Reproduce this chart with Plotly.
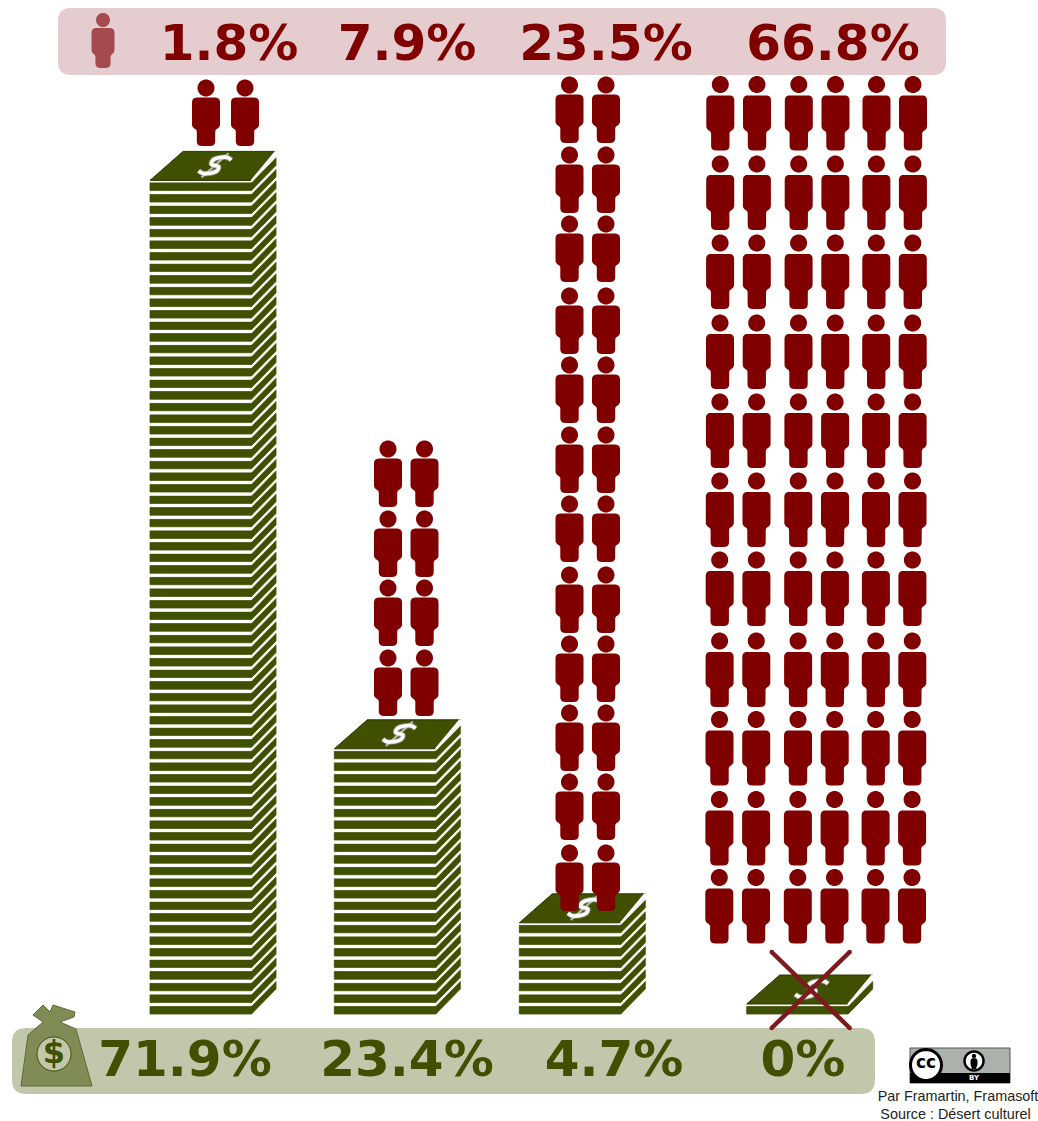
import math
import plotly.graph_objects as go

# Share of cultural income and share of people in each of the four groups
money_pct = [71.9, 23.4, 4.7, 0]
people_pct = [1.8, 7.9, 23.5, 66.8]
note_layers = [72, 23, 8, 1]
people_count = [2, 8, 24, 66]
people_per_row = [2, 2, 2, 6]

# Horizontal placement of the groups (px-like plot units)
stack_left = [150, 334.3, 519.3, 746.7]
people_x = [
    [206, 245],
    [388, 424.5],
    [569.5, 606],
    [720.3, 757, 798.8, 835.5, 876.5, 913],
]
people_row_y = [
    [88],
    [449, 519, 588, 658],
    [85, 155, 224, 296, 365, 435, 504, 575, 644, 713, 782, 853],
    [84.5, 164, 243, 323, 402, 481, 560, 641, 719.5, 799.5, 877.5],
]
people_height = [58, 58, 58, 66]
people_pct_x = [229, 407, 606, 833]
money_pct_x = [185, 407, 614, 803]

RED = "#800000"
GREEN = "#3f5000"
W, H = 1038, 1121
BASE = 1014
PITCH = 11.6
FRONT_W = 101.5
SIDE_DX = 24.5
SIDE_DY = 25


def rounded(points, radii):
    """Closed outline through points with each corner rounded by its radius."""
    out_x, out_y = [], []
    n = len(points)
    for i, (px, py) in enumerate(points):
        ax, ay = points[i - 1]
        bx, by = points[(i + 1) % n]
        r = radii[i]
        la = math.hypot(ax - px, ay - py)
        lb = math.hypot(bx - px, by - py)
        r = min(r, la / 2, lb / 2)
        for k in range(7):
            t = k / 6
            s = (px + (ax - px) * r / la, py + (ay - py) * r / la)
            e = (px + (bx - px) * r / lb, py + (by - py) * r / lb)
            out_x.append((1 - t) ** 2 * s[0] + 2 * t * (1 - t) * px + t * t * e[0])
            out_y.append((1 - t) ** 2 * s[1] + 2 * t * (1 - t) * py + t * t * e[1])
    out_x.append(out_x[0])
    out_y.append(out_y[0])
    return out_x, out_y


def circle(cx, cy, r):
    steps = [2 * math.pi * k / 40 for k in range(41)]
    return [cx + r * math.cos(a) for a in steps], [cy + r * math.sin(a) for a in steps]


def person(cx, head_y, height=58.0, sx=1.0):
    """Head and body outline of one figure, as separate closed sub-paths."""
    sy = height / 58.0
    hx, hy = circle(cx, head_y, 8.5 * sx)
    top = head_y + 9.6 * sy
    shoulder = head_y + 39 * sy
    bottom = head_y + height
    bw, lw = 14 * sx, 9.2 * sx
    pts = [
        (cx - bw, top), (cx + bw, top), (cx + bw, shoulder),
        (cx + lw, shoulder + 3), (cx + lw, bottom), (cx - lw, bottom),
        (cx - lw, shoulder + 3), (cx - bw, shoulder),
    ]
    bx, by = rounded(pts, [5, 5, 4, 2, 5, 5, 2, 4])
    return hx + [None] + bx, hy + [None] + by


def join(paths):
    xs, ys = [], []
    for px, py in paths:
        xs += list(px) + [None]
        ys += list(py) + [None]
    return xs, ys


fig = go.Figure()


def poly(xs, ys, fill, line=None, width=0):
    fig.add_trace(go.Scatter(
        x=xs, y=ys, mode="lines", fill="toself", fillcolor=fill,
        line=dict(color=line or fill, width=width, simplify=False), hoverinfo="skip",
    ))


def stroke(xs, ys, color, width, shape="linear"):
    fig.add_trace(go.Scatter(
        x=xs, y=ys, mode="lines",
        line=dict(color=color, width=width, shape=shape, simplify=False),
        hoverinfo="skip",
    ))


def labels(xs, ys, texts, color, size, family="DejaVu Sans", bold=True):
    fig.add_trace(go.Scatter(
        x=xs, y=ys, mode="text", text=texts, textposition="middle center",
        textfont=dict(color=color, size=size, family=family,
                      weight="bold" if bold else "normal"),
        hoverinfo="skip",
    ))


# Header and footer bands
px_, py_ = rounded([(58, 8), (946, 8), (946, 75), (58, 75)], [13] * 4)
poly(px_, py_, "#e5cdcf")
px_, py_ = rounded([(12, 1028), (875, 1028), (875, 1094), (12, 1094)], [14] * 4)
poly(px_, py_, "#c1c7ab")

# Stacks of banknotes, one layer per note bundle
for left, layers in zip(stack_left, note_layers):
    green, white_front, white_side = [], [], []
    right = left + FRONT_W
    for i in range(layers):
        b = BASE - i * PITCH
        g_top = b - 7.6
        green.append(([left, right, right, left, left], [b, b, g_top, g_top, b]))
        green.append((
            [right, right + SIDE_DX, right + SIDE_DX, right, right],
            [b, b - SIDE_DY, g_top - SIDE_DY, g_top, b],
        ))
        wy = b - 9.4
        white_front.append(([left, right], [wy, wy]))
        white_side.append(([right, right + SIDE_DX], [wy, wy - SIDE_DY]))
    gx, gy = join(green)
    poly(gx, gy, GREEN, GREEN, 0.8)
    wx, wy_ = join(white_front)
    stroke(wx, wy_, "#ffffff", 2.6)
    wx, wy_ = join(white_side)
    stroke(wx, wy_, "#f2f3ec", 1.9)

    # Top note with its dollar sign
    front = BASE - (layers - 1) * PITCH - 10
    poly([left, right, left + 126, left + 33, left],
         [front, front, front - 29, front - 29, front], GREEN, "#2c3800", 1)
    stroke([right, left + 126], [front + 0.5, front - 29], "#ffffff", 2.2)
    cx, cy = left + 65, front - 15

    def to_face(u, v):
        return cx + 13 * u + 10 * v, cy - 9 * v

    s_curve = [(0.8, 0.6), (0.2, 0.9), (-0.6, 0.65), (-0.4, 0.15), (0.4, -0.15),
               (0.6, -0.65), (-0.2, -0.9), (-0.8, -0.6)]
    sx_, sy_ = zip(*(to_face(u, v) for u, v in s_curve))
    bx_, by_ = zip(*(to_face(0, v) for v in (-1.35, 1.35)))
    stroke(list(sx_), list(sy_), "#8c8f80", 5.4, "spline")
    stroke(list(bx_), list(by_), "#b9bbb0", 2.2)
    stroke(list(sx_), list(sy_), "#ffffff", 3.6, "spline")

# The crossed-out note of the last group
cross_left = stack_left[3]
fig.add_trace(go.Scatter(
    x=[cross_left + 25, cross_left + 103, None, cross_left + 103, cross_left + 25],
    y=[952, 1028, None, 952, 1028], mode="lines+markers",
    line=dict(color="#7c1a1e", width=4.5), marker=dict(color="#7c1a1e", size=4.5),
    hoverinfo="skip",
))

# Crowd of figures, drawn row by row until each group's count is reached
for count, per_row, xs_, rows, height in zip(
        people_count, people_per_row, people_x, people_row_y, people_height):
    shapes = []
    for k in range(count):
        row = k // per_row
        drift = -0.1 * row if per_row == 6 else 0
        shapes.append(person(xs_[k % per_row] + drift, rows[row], height))
    sx_, sy_ = join(shapes)
    poly(sx_, sy_, RED)

# Header icon and percentages
ix, iy = person(103, 20, 48, 0.82)
poly(ix, iy, "#a54a4e")
labels(people_pct_x, [47.5] * 4, [f"{v}%" for v in people_pct], RED, 50)

# Money bag with its coin
poly([21, 28, 43, 33, 43, 50, 53, 75, 74, 60, 76, 92, 21],
     [1086, 1035, 1022, 1015, 1005, 1012, 1005, 1012, 1017, 1022, 1029, 1086, 1086],
     "#7f8c55", "#5f6b38", 1)
cx_, cy_ = circle(54, 1054, 17)
poly(cx_, cy_, "#c1c7ab", GREEN, 1)
labels([54], [1055], ["$"], GREEN, 32)
labels(money_pct_x, [1063.5] * 4, [f"{v}%" for v in money_pct], GREEN, 50)

# Licence badge
poly([910, 1010, 1010, 910, 910], [1048, 1048, 1083, 1083, 1048], "#aab2ab", "#555555", 1)
poly([910, 1010, 1010, 910, 910], [1073, 1073, 1083, 1083, 1073], "#000000")
bx_, by_ = circle(926, 1065, 15.5)
poly(bx_, by_, "#ffffff", "#000000", 3)
labels([926], [1064], ["cc"], "#000000", 17)
bx_, by_ = circle(974, 1061, 9.5)
poly(bx_, by_, "#ffffff", "#000000", 2.5)
hx_, hy_ = person(974, 1056, 13, 0.25)
poly(hx_, hy_, "#000000")
labels([974], [1078], ["BY"], "#ffffff", 7)

# Credits
labels([958], [1097], ["Par Framartin, Framasoft"], "#222222", 14.4,
       "Liberation Sans", False)
labels([955.5], [1115], ["Source : Désert culturel"], "#222222", 14.4,
       "Liberation Sans", False)

axis = dict(visible=False, fixedrange=True)
fig.update_layout(
    width=W, height=H, autosize=False, showlegend=False,
    margin=dict(l=0, r=0, t=0, b=0),
    paper_bgcolor="#ffffff", plot_bgcolor="#ffffff",
    xaxis=dict(range=[0, W], **axis),
    yaxis=dict(range=[H, 0], **axis),
)
fig.write_html("out.html", config=dict(displayModeBar=False))
